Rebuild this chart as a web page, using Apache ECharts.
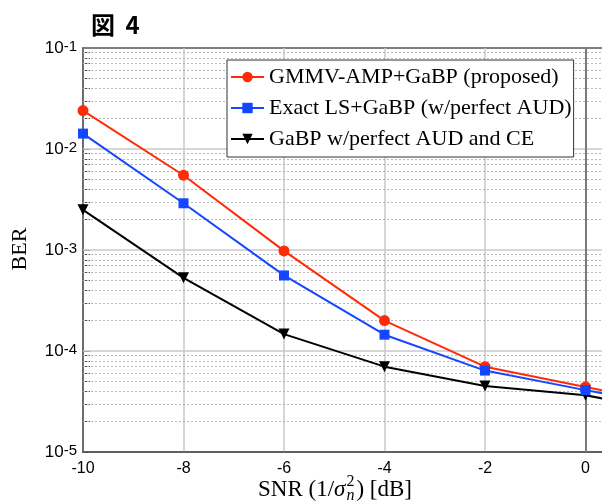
<!DOCTYPE html>
<html><head><meta charset="utf-8">
<script src="https://cdn.jsdelivr.net/npm/echarts@6/dist/echarts.min.js"></script>
<style>html,body{margin:0;padding:0;background:#fff}#c{width:602px;height:502px}</style>
</head><body><div id="c"></div>
<script>
// ---- data ----
const snr = [-10, -8, -6, -4, -2, 0, 2];
const berProposed = [2.4e-2, 5.5e-3, 9.8e-4, 2.0e-4, 7.0e-5, 4.4e-5, 2.8e-5];
const berExactLS  = [1.42e-2, 2.9e-3, 5.6e-4, 1.45e-4, 6.4e-5, 4.1e-5, 2.7e-5];
const berPerfect  = [2.5e-3, 5.3e-4, 1.47e-4, 7.0e-5, 4.5e-5, 3.65e-5, 2.35e-5];
const seriesNames = ['GMMV-AMP+GaBP (proposed)', 'Exact LS+GaBP (w/perfect AUD)', 'GaBP w/perfect AUD and CE'];
const xTickLabels = ['-10', '-8', '-6', '-4', '-2', '0', '2'];
const yTickExponents = [-5, -4, -3, -2, -1];
const yMinorMantissas = [2, 3, 4, 5, 6, 7, 8, 9];
const titleParts = ['図', '4'];
const yTitle = 'BER';

// ---- styles ----
const RED = '#ff2a06', BLUE = '#1546ff', BLACK = '#000000';
const AXIS = '#555555';

const majorVals = yTickExponents.map(e => Math.pow(10, e));
const minorVals = [];
yTickExponents.slice(0, -1).forEach(e => yMinorMantissas.forEach(m => minorVals.push(m * Math.pow(10, e))));
const allTickVals = majorVals.concat(minorVals);

const gridLines = [];
minorVals.forEach(v => gridLines.push({yAxis: v, lineStyle: {color: '#b8b8b8', width: 1, type: [2, 2]}}));
majorVals.slice(1, -1).forEach(v => gridLines.push({yAxis: v, lineStyle: {color: '#c8c8c8', width: 1.5, type: 'solid'}}));
gridLines.push({xAxis: 0, lineStyle: {color: '#7a7a7a', width: 2, type: 'solid'}});

function pairs(ys) { return snr.map((x, i) => [x, ys[i]]); }

// x-axis title layout measured with canvas
const ctx = document.createElement('canvas').getContext('2d');
function tw(font, s) { ctx.font = font; return ctx.measureText(s).width; }
const F_MAIN = '23px "Liberation Serif"', F_IT = 'italic 23px "Liberation Serif"', F_SUBI = 'italic 16px "Liberation Serif"', F_SUP = '16px "Liberation Serif"';
const p1 = 'SNR (1/', p2 = 'σ', p3 = ') [dB]';
const w1 = tw(F_MAIN, p1), w2 = tw(F_IT, p2), wn = tw(F_SUBI, 'n'), w2s = tw(F_SUP, '2'), w3 = tw(F_MAIN, p3);
const wsc = Math.max(wn, w2s) + 2;
const W = w1 + w2 + 1 + wsc + w3;
const cx = 335, cy = 490;
const x0 = cx - W / 2;

const chart = echarts.init(document.getElementById('c'), null, {renderer: 'canvas'});
chart.setOption({
  animation: false,
  backgroundColor: '#ffffff',
  title: {
    text: '{a|' + titleParts[0] + ' }{b|' + titleParts[1] + '}', left: 91, top: 13, padding: 0,
    textStyle: {
      rich: {
        a: {fontFamily: '"Noto Sans CJK JP"', fontSize: 24, fontWeight: 'bold', color: '#000'},
        b: {fontFamily: '"Noto Sans CJK JP"', fontSize: 24, fontWeight: 'bold', color: '#000', padding: [0, 0, 0, 5]}
      }
    }
  },
  grid: {left: 83, top: 48, width: 603, height: 404, show: true, borderColor: AXIS, borderWidth: 1.5,
         containLabel: false, outerBoundsMode: 'none'},
  xAxis: {
    type: 'value', min: -10, max: 2, interval: 2,
    axisLine: {show: true, onZero: false, lineStyle: {color: AXIS, width: 1.5}},
    axisTick: {show: false},
    splitLine: {show: true, lineStyle: {color: '#c8c8c8', width: 1.5}},
    axisLabel: {margin: 9, fontSize: 16, color: '#000', fontFamily: '"Liberation Sans"',
      formatter: v => { const i = snr.indexOf(v); return i >= 0 ? xTickLabels[i] : ''; }}
  },
  yAxis: {
    type: 'log', logBase: 10, min: 1e-5, max: 1e-1,
    axisLine: {show: true, onZero: false, lineStyle: {color: AXIS, width: 1.5}},
    axisTick: {show: true, inside: true, length: 7, lineStyle: {color: AXIS, width: 1}, customValues: allTickVals},
    splitLine: {show: false},
    minorTick: {show: false},
    axisLabel: {
      margin: 6, color: '#000',
      formatter: v => '{b|10}{s|' + Math.round(Math.log10(v)) + '}',
      rich: {
        b: {fontSize: 17, fontFamily: '"Liberation Sans"', color: '#000', lineHeight: 18, verticalAlign: 'bottom'},
        s: {fontSize: 15, fontFamily: '"Liberation Sans"', color: '#000', lineHeight: 15, verticalAlign: 'top', padding: [0, 0, 9, 0]}
      }
    }
  },
  legend: {
    data: seriesNames, orient: 'vertical', left: 227, top: 60, padding: [6, 2, 7, 3],
    itemGap: 9, itemWidth: 33, itemHeight: 13, backgroundColor: '#fff',
    borderColor: '#333', borderWidth: 1, borderRadius: 0, z: 10, selectedMode: false,
    textStyle: {fontFamily: '"Liberation Serif"', fontSize: 22, color: '#000'}
  },
  graphic: [
    {type: 'text', x: 20, y: 249, rotation: Math.PI / 2,
     style: {text: yTitle, font: '22px "Liberation Serif"', fill: '#000', align: 'center', verticalAlign: 'middle'}},
    {type: 'text', x: x0, y: cy, style: {text: p1, font: F_MAIN, fill: '#000', align: 'left', verticalAlign: 'middle'}},
    {type: 'text', x: x0 + w1, y: cy, style: {text: p2, font: F_IT, fill: '#000', align: 'left', verticalAlign: 'middle'}},
    {type: 'text', x: x0 + w1 + w2 + 1, y: cy - 8, style: {text: '2', font: F_SUP, fill: '#000', align: 'left', verticalAlign: 'middle'}},
    {type: 'text', x: x0 + w1 + w2 + 1, y: cy + 6, style: {text: 'n', font: F_SUBI, fill: '#000', align: 'left', verticalAlign: 'middle'}},
    {type: 'text', x: x0 + w1 + w2 + 1 + wsc, y: cy, style: {text: p3, font: F_MAIN, fill: '#000', align: 'left', verticalAlign: 'middle'}}
  ],
  series: [
    {type: 'line', name: '_grid', data: [], silent: true, z: 1,
     markLine: {silent: true, z: 1, symbol: 'none', precision: 20, label: {show: false}, animation: false, emphasis: {disabled: true}, data: gridLines}},
    {type: 'line', name: seriesNames[2], data: pairs(berPerfect), z: 2,
     symbol: 'triangle', symbolRotate: 180, symbolSize: 11,
     lineStyle: {color: BLACK, width: 2}, itemStyle: {color: BLACK}},
    {type: 'line', name: seriesNames[0], data: pairs(berProposed), z: 3,
     symbol: 'circle', symbolSize: 11,
     lineStyle: {color: RED, width: 2}, itemStyle: {color: RED}},
    {type: 'line', name: seriesNames[1], data: pairs(berExactLS), z: 4,
     symbol: 'rect', symbolSize: 10,
     lineStyle: {color: BLUE, width: 2}, itemStyle: {color: BLUE}}
  ]
});
</script></body></html>
